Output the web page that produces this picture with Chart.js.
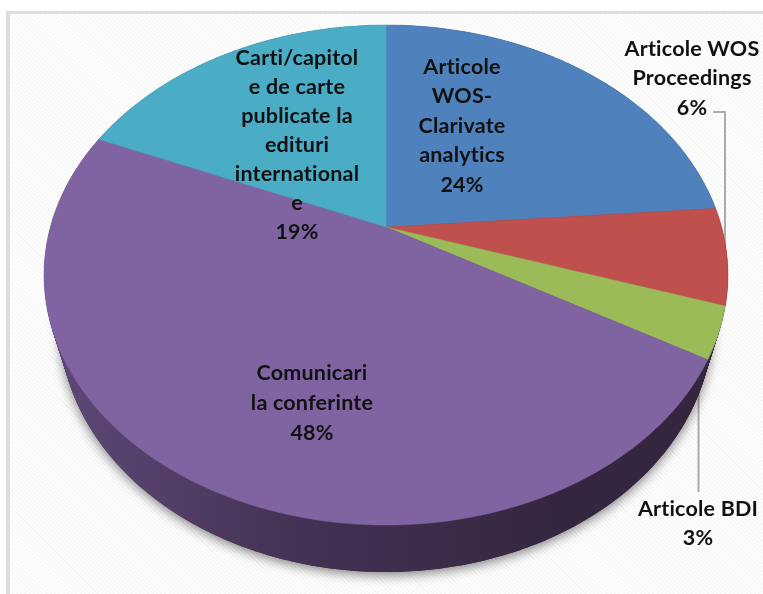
<!DOCTYPE html>
<html>
<head>
<meta charset="utf-8">
<script src="https://cdn.jsdelivr.net/npm/chart.js@4"></script>
<style>
  html, body { margin: 0; padding: 0; background: #fff; }
  #frame {
    position: absolute; left: 6px; top: 11px; width: 757px; height: 583px;
    border-left: 4px solid #dedede; border-top: 3px solid #dedede; box-sizing: border-box;
    background: repeating-linear-gradient(45deg, #ffffff 0, #ffffff 1.5px, #f7f7f7 1.5px, #f7f7f7 3px);
  }
  canvas { position: absolute; left: 0; top: 0; }
</style>
</head>
<body>
<div id="frame"></div>
<canvas id="pieChart" width="763" height="594"></canvas>
<script>
//Chart data
const categories = ['Articole WOS-Clarivate analytics', 'Articole WOS Proceedings', 'Articole BDI', 'Comunicari la conferinte', 'Carti/capitole de carte publicate la edituri internationale'];
const shares = [23.75, 6.25, 3.3, 48.1, 18.6];
const sliceColors = ['#4f81bd', '#c0504d', '#9bbb59', '#8064a2', '#4bacc6'];

//Label lines as they wrap in the picture
const labelLines = [
  ['Articole', 'WOS-', 'Clarivate', 'analytics', '24%'],
  ['Articole WOS', 'Proceedings', '6%'],
  ['Articole BDI', '3%'],
  ['Comunicari', 'la conferinte', '48%'],
  ['Carti/capitol', 'e de carte', 'publicate la', 'edituri', 'international', 'e', '19%'],
];
const labelAnchors = [
  { x: 462, y: 67, step: 29.5 },
  { x: 692, y: 49, step: 29.5 },
  { x: 698, y: 509, step: 29 },
  { x: 312, y: 373, step: 30 },
  { x: 297, y: 58, step: 29 },
];

// Perspective of the tilted pie
const pieView = { cx: 386, cy: 227, rx: 335.6, ry: 240.8, tilt: 0.192 };
const wall = { drop: 47, shrink: 0.955, layers: 47 };

function project(angle, t) {
  const u = Math.cos(angle);
  const v = Math.sin(angle);
  const w = 1 - pieView.tilt * v;
  const scale = 1 - (1 - wall.shrink) * t;
  return {
    x: pieView.cx + (pieView.rx * u * scale) / w,
    y: pieView.cy + (pieView.ry * v) / w + wall.drop * t,
  };
}

function traceSlice(ctx, start, end, t, withCenter) {
  const steps = Math.max(2, Math.ceil((end - start) * 80));
  ctx.beginPath();
  if (withCenter) {
    ctx.moveTo(pieView.cx, pieView.cy);
  }
  for (let i = 0; i <= steps; i++) {
    const p = project(start + ((end - start) * i) / steps, t);
    ctx.lineTo(p.x, p.y);
  }
  ctx.closePath();
}

function drawLeaders(ctx) {
  ctx.strokeStyle = '#ababab';
  ctx.lineWidth = 2;
  ctx.beginPath();
  ctx.moveTo(713, 112);
  ctx.lineTo(725, 112);
  ctx.lineTo(725, 260);
  ctx.moveTo(698.5, 370);
  ctx.lineTo(698.5, 492);
  ctx.stroke();
}

function drawWall(ctx) {
  const gradient = ctx.createLinearGradient(50, 0, 560, 0);
  gradient.addColorStop(0, '#5f4878');
  gradient.addColorStop(0.5, '#433253');
  gradient.addColorStop(1, '#35263f');

  // Soft shadow under the disc
  ctx.save();
  ctx.shadowColor = 'rgba(0,0,0,0.5)';
  ctx.shadowBlur = 12;
  ctx.shadowOffsetY = 3;
  ctx.fillStyle = '#35263f';
  traceSlice(ctx, 0, Math.PI * 2, 1, false);
  ctx.fill();
  ctx.restore();

  ctx.fillStyle = gradient;
  for (let i = wall.layers; i >= 0; i--) {
    traceSlice(ctx, 0, Math.PI * 2, i / wall.layers, false);
    ctx.fill();
  }
}

//Draws the pie arcs of the library in perspective
const perspectivePie = {
  id: 'perspectivePie',
  beforeDatasetDraw(chart, args) {
    const ctx = chart.ctx;
    drawLeaders(ctx);
    drawWall(ctx);
    args.meta.data.forEach((arc, index) => {
      ctx.fillStyle = sliceColors[index];
      ctx.strokeStyle = sliceColors[index];
      ctx.lineWidth = 0.5;
      traceSlice(ctx, arc.startAngle, arc.endAngle, 0, true);
      ctx.fill();
      ctx.stroke();
    });
    return false;
  },
  afterDatasetsDraw(chart) {
    const ctx = chart.ctx;
    ctx.fillStyle = '#111111';
    ctx.font = 'bold 21.5px Lato, Carlito, sans-serif';
    ctx.letterSpacing = '0.2px'; // also stops the ti ligature
    ctx.textAlign = 'center';
    ctx.textBaseline = 'middle';
    labelLines.forEach((lines, index) => {
      const anchor = labelAnchors[index];
      lines.forEach((line, row) => {
        ctx.fillText(line, anchor.x, anchor.y + row * anchor.step);
      });
    });
  },
};

//Create Pie Chart
function createChart() {
  const chartContext = document.getElementById('pieChart').getContext('2d');
  /* global Chart */
  return new Chart(chartContext, {
    type: 'pie',
    data: {
      labels: categories,
      datasets: [{ data: shares, backgroundColor: sliceColors, borderWidth: 0 }],
    },
    options: {
      responsive: false,
      animation: false,
      plugins: {
        legend: { display: false },
        tooltip: { enabled: false },
      },
    },
    plugins: [perspectivePie],
  });
}

document.addEventListener('DOMContentLoaded', createChart);
</script>
</body>
</html>
